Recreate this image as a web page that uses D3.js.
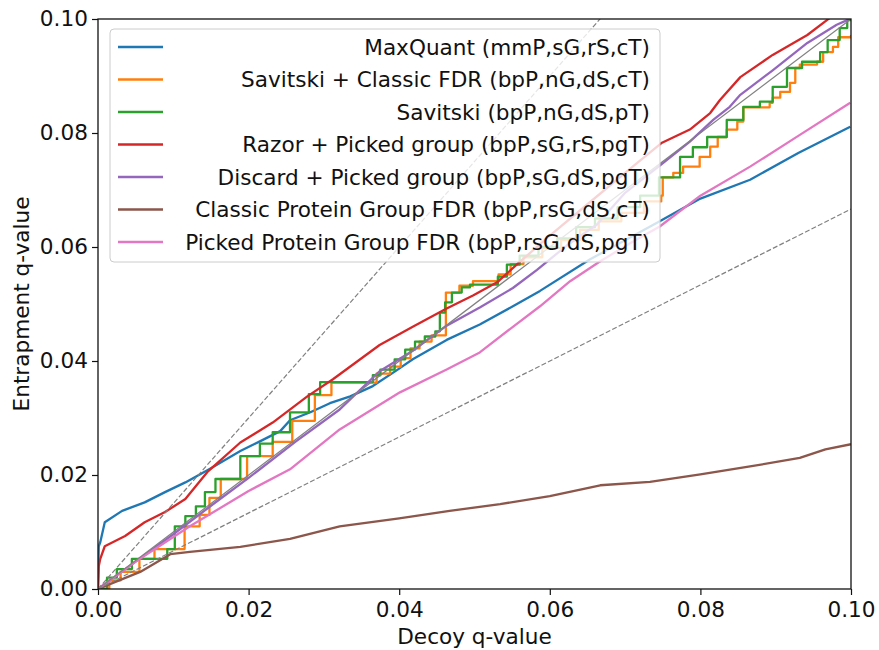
<!DOCTYPE html>
<html>
<head>
<meta charset="utf-8">
<script src="https://cdn.jsdelivr.net/npm/d3@7/dist/d3.min.js"></script>
<style>
  body { margin: 0; background: #fff; }
  svg text { font-family: "DejaVu Sans", sans-serif; fill: #111; }
</style>
</head>
<body>
<script>
var width = 879;
var height = 650;
var margin = {top: 19, right: 28, bottom: 60, left: 98};
var fontSize = '21.6px';

// legend labels, in plot order
var labels = [
  'MaxQuant (mmP,sG,rS,cT)',
  'Savitski + Classic FDR (bpP,nG,dS,cT)',
  'Savitski (bpP,nG,dS,pT)',
  'Razor + Picked group (bpP,sG,rS,pgT)',
  'Discard + Picked group (bpP,sG,dS,pgT)',
  'Classic Protein Group FDR (bpP,rsG,dS,cT)',
  'Picked Protein Group FDR (bpP,rsG,dS,pgT)'
];
var colors = ['#1f77b4', '#ff7f0e', '#2ca02c', '#d62728', '#9467bd', '#8c564b', '#e377c2'];

var xTicks = [0, 0.02, 0.04, 0.06, 0.08, 0.1];
var yTicks = [0, 0.02, 0.04, 0.06, 0.08, 0.1];

// [decoy q-value, entrapment q-value]
var maxquant = [[0, 0], [0.0001, 0.0075], [0.0003, 0.0082], [0.0009, 0.0117], [0.0032, 0.0137],
  [0.0062, 0.0152], [0.0089, 0.017], [0.0116, 0.0187], [0.015, 0.0212], [0.0189, 0.0242],
  [0.0215, 0.0259], [0.0242, 0.0277], [0.0255, 0.0296], [0.0282, 0.031], [0.0308, 0.0326],
  [0.0335, 0.0338], [0.0365, 0.0356], [0.0397, 0.0384], [0.0418, 0.0403], [0.0463, 0.0437],
  [0.0507, 0.0464], [0.0551, 0.0496], [0.0587, 0.0523], [0.0653, 0.0578], [0.07, 0.0612],
  [0.0746, 0.0645], [0.08, 0.0685], [0.0866, 0.0718], [0.093, 0.0765], [0.0999, 0.0811]];

var savitskiClassic = [[0, 0], [0.0015, 0.0015], [0.003, 0.003], [0.0055, 0.0053], [0.0075, 0.007],
  [0.0115, 0.011], [0.0135, 0.013], [0.0148, 0.016], [0.0163, 0.0193], [0.0198, 0.0233],
  [0.0232, 0.0258], [0.0258, 0.0295], [0.0288, 0.034], [0.031, 0.0362], [0.037, 0.0378],
  [0.0388, 0.039], [0.0402, 0.0405], [0.0415, 0.0422], [0.0427, 0.0434], [0.0443, 0.0445],
  [0.0462, 0.052], [0.048, 0.0532], [0.0498, 0.054], [0.0532, 0.0552], [0.0548, 0.057],
  [0.0565, 0.0582], [0.059, 0.0598], [0.0615, 0.0612], [0.064, 0.063], [0.0665, 0.0645],
  [0.0695, 0.066], [0.0725, 0.068], [0.0748, 0.069], [0.075, 0.0722], [0.0764, 0.073],
  [0.0777, 0.0741], [0.0799, 0.0758], [0.0813, 0.0776], [0.0823, 0.0793], [0.0835, 0.0806],
  [0.0849, 0.082], [0.0857, 0.0845], [0.0892, 0.0853], [0.0896, 0.0862], [0.0906, 0.0872],
  [0.0919, 0.0888], [0.0926, 0.0914], [0.0932, 0.092], [0.0955, 0.0925], [0.0963, 0.0942],
  [0.0976, 0.0951], [0.0983, 0.0968], [0.1, 0.0972]];

var savitski = [[0, 0], [0.0012, 0.002], [0.0025, 0.0035], [0.0045, 0.0053], [0.0092, 0.007],
  [0.0102, 0.011], [0.0116, 0.0128], [0.013, 0.0145], [0.0142, 0.017], [0.0156, 0.0193],
  [0.0189, 0.0233], [0.0215, 0.0255], [0.0232, 0.0275], [0.0255, 0.031], [0.028, 0.0342],
  [0.0295, 0.0363], [0.0365, 0.0375], [0.0375, 0.0385], [0.0394, 0.0403], [0.0408, 0.042],
  [0.0421, 0.0434], [0.0434, 0.0443], [0.0448, 0.0452], [0.0454, 0.0485], [0.0461, 0.0503],
  [0.047, 0.052], [0.0483, 0.0529], [0.0494, 0.0534], [0.0531, 0.0548], [0.0543, 0.0569],
  [0.056, 0.0585], [0.0585, 0.06], [0.061, 0.0615], [0.0635, 0.0635], [0.066, 0.065],
  [0.069, 0.067], [0.072, 0.069], [0.0745, 0.0722], [0.0773, 0.0758], [0.079, 0.0775],
  [0.0809, 0.0793], [0.0835, 0.0823], [0.0857, 0.0846], [0.0879, 0.0855], [0.0896, 0.0881],
  [0.0915, 0.0914], [0.0935, 0.0925], [0.0959, 0.0942], [0.0969, 0.0963], [0.0985, 0.0984],
  [0.0995, 0.0998], [0.1, 0.0998]];

var razor = [[0, 0], [0.0001, 0.004], [0.0003, 0.0053], [0.0009, 0.0075], [0.0036, 0.0093],
  [0.0062, 0.0117], [0.0089, 0.0135], [0.0116, 0.0158], [0.0145, 0.0205], [0.0189, 0.0257],
  [0.0232, 0.0292], [0.0278, 0.0338], [0.0312, 0.0368], [0.0374, 0.0428], [0.0418, 0.046],
  [0.0463, 0.0492], [0.0498, 0.0515], [0.053, 0.0538], [0.0556, 0.0569], [0.06, 0.062],
  [0.065, 0.0675], [0.07, 0.073], [0.0749, 0.0783], [0.0786, 0.0806], [0.0813, 0.0835],
  [0.0826, 0.0858], [0.0853, 0.0898], [0.0896, 0.0937], [0.0942, 0.0972], [0.0968, 0.0998],
  [0.1, 0.103]];

var discard = [[0, 0], [0.005, 0.0048], [0.01, 0.0096], [0.015, 0.0146], [0.02, 0.0195],
  [0.0262, 0.0258], [0.0321, 0.0315], [0.0374, 0.0382], [0.0418, 0.0418], [0.0463, 0.0462],
  [0.0507, 0.0494], [0.0551, 0.0528], [0.0583, 0.056], [0.0623, 0.0603], [0.0663, 0.064],
  [0.07, 0.0695], [0.0749, 0.0746], [0.0786, 0.0785], [0.0817, 0.0823], [0.0839, 0.0846],
  [0.0853, 0.0867], [0.0896, 0.091], [0.0942, 0.0958], [0.0981, 0.099], [0.0995, 0.0998]];

var classicGroup = [[0, 0], [0.0056, 0.003], [0.0096, 0.0061], [0.0122, 0.0065], [0.0189, 0.0074],
  [0.0255, 0.0088], [0.0321, 0.011], [0.04, 0.0124], [0.0467, 0.0137], [0.0534, 0.0149],
  [0.06, 0.0163], [0.0667, 0.0182], [0.0733, 0.0188], [0.08, 0.0201], [0.0866, 0.0215],
  [0.0932, 0.023], [0.0966, 0.0245], [0.1, 0.0254]];

var pickedGroup = [[0, 0], [0.005, 0.0048], [0.0122, 0.011], [0.02, 0.0172], [0.0255, 0.021],
  [0.0321, 0.028], [0.0401, 0.0345], [0.0463, 0.0385], [0.0507, 0.0415], [0.0551, 0.046],
  [0.0587, 0.0496], [0.0627, 0.054], [0.0667, 0.0575], [0.0706, 0.0606], [0.0746, 0.0636],
  [0.08, 0.069], [0.0866, 0.0741], [0.093, 0.0795], [0.0999, 0.0853]];

var series = [maxquant, savitskiClassic, savitski, razor, discard, classicGroup, pickedGroup];
var stepped = [false, true, true, false, false, false, false];

var svg = d3.select('body').append('svg')
  .attr('width', width)
  .attr('height', height);

var x = d3.scaleLinear().domain([0, 0.1]).range([margin.left, width - margin.right]);
var y = d3.scaleLinear().domain([0, 0.1]).range([height - margin.bottom - 1, margin.top]);

svg.append('clipPath').attr('id', 'plot')
  .append('rect')
  .attr('x', x(0)).attr('y', y(0.1))
  .attr('width', x(0.1) - x(0)).attr('height', y(0) - y(0.1));

var plot = svg.append('g').attr('clip-path', 'url(#plot)');

var line = d3.line().x(d => x(d[0])).y(d => y(d[1]));
var stepLine = d3.line().x(d => x(d[0])).y(d => y(d[1])).curve(d3.curveStepAfter);

series.forEach(function (s, i) {
  plot.append('path')
    .datum(s)
    .attr('d', stepped[i] ? stepLine : line)
    .attr('fill', 'none')
    .attr('stroke', colors[i])
    .attr('stroke-width', 2.3)
    .attr('stroke-linejoin', 'round');
});

// reference lines: y = x, y = 1.5x, y = x / 1.5
var refs = [
  {pts: [[0, 0], [0.1, 0.1]], dash: null},
  {pts: [[0, 0], [0.1, 0.15]], dash: '5,2.2'},
  {pts: [[0, 0], [0.1, 0.1 / 1.5]], dash: '5,2.2'}
];
refs.forEach(function (r) {
  plot.append('path')
    .datum(r.pts)
    .attr('d', line)
    .attr('fill', 'none')
    .attr('stroke', '#808080')
    .attr('stroke-width', 1.2)
    .attr('stroke-dasharray', r.dash);
});

// axes
var fmt = d3.format('.2f');
var xAxis = svg.append('g')
  .attr('transform', 'translate(0,' + y(0) + ')')
  .call(d3.axisBottom(x).tickValues(xTicks).tickFormat(fmt).tickSize(6).tickSizeOuter(0));
var yAxis = svg.append('g')
  .attr('transform', 'translate(' + x(0) + ',0)')
  .call(d3.axisLeft(y).tickValues(yTicks).tickFormat(fmt).tickSize(6).tickSizeOuter(0));

[xAxis, yAxis].forEach(function (a) {
  a.select('.domain').remove();
  a.selectAll('.tick line').attr('stroke', '#111').attr('stroke-width', 1.2);
  a.selectAll('.tick text').style('font-size', fontSize).attr('fill', '#111');
});
xAxis.selectAll('.tick text').attr('dy', '0.9em');
yAxis.selectAll('.tick text').attr('dx', '-0.05em');

svg.append('rect')
  .attr('x', x(0)).attr('y', y(0.1))
  .attr('width', x(0.1) - x(0)).attr('height', y(0) - y(0.1))
  .attr('fill', 'none')
  .attr('stroke', '#111')
  .attr('stroke-width', 1.3);

svg.append('text')
  .attr('x', (x(0) + x(0.1)) / 2)
  .attr('y', 644)
  .attr('text-anchor', 'middle')
  .style('font-size', fontSize)
  .text('Decoy q-value');

svg.append('text')
  .attr('transform', 'translate(29,' + (y(0) + y(0.1)) / 2 + ') rotate(-90)')
  .attr('text-anchor', 'middle')
  .style('font-size', fontSize)
  .text('Entrapment q-value');

// legend
var legend = svg.append('g');
legend.append('rect')
  .attr('x', 110).attr('y', 29)
  .attr('width', 550).attr('height', 233)
  .attr('rx', 4)
  .attr('fill', 'white')
  .attr('fill-opacity', 0.8)
  .attr('stroke', '#cccccc')
  .attr('stroke-width', 1);

labels.forEach(function (label, i) {
  var ry = 47 + i * 32.5;
  legend.append('line')
    .attr('x1', 118).attr('x2', 163)
    .attr('y1', ry).attr('y2', ry)
    .attr('stroke', colors[i])
    .attr('stroke-width', 2.3);
  legend.append('text')
    .attr('x', 650).attr('y', ry)
    .attr('dy', '0.35em')
    .attr('text-anchor', 'end')
    .style('font-size', fontSize)
    .text(label);
});
</script>
</body>
</html>
